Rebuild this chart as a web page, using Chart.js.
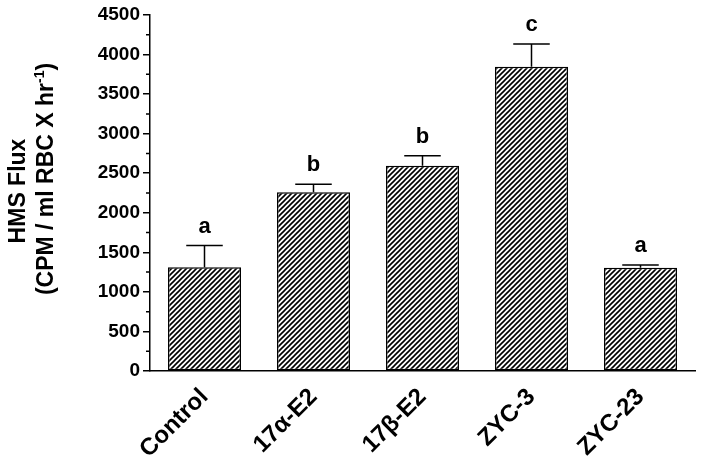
<!DOCTYPE html>
<html>
<head>
<meta charset="utf-8">
<script src="https://cdn.jsdelivr.net/npm/chart.js@4.4.0/dist/chart.umd.min.js"></script>
<style>
  html, body { margin: 0; padding: 0; background: #fff; }
  #wrap { width: 704px; height: 465px; position: relative; }
</style>
</head>
<body>
<div id="wrap"><canvas id="hmsChart"></canvas></div>
<script>
// data
const categories = ['Control', '17\u03b1-E2', '17\u03b2-E2', 'ZYC-3', 'ZYC-23'];
const fluxMeans = [1310, 2260, 2595, 3845, 1305];
const fluxErrors = [275, 100, 127, 287, 35];
const sigLetters = ['a', 'b', 'b', 'c', 'a'];
const yTicks = [0, 500, 1000, 1500, 2000, 2500, 3000, 3500, 4000, 4500];

const FONT = '"Liberation Sans", Arial, Helvetica, sans-serif';

function makeHatch() {
    const size = 5;
    const c = document.createElement('canvas');
    c.width = size;
    c.height = size;
    const g = c.getContext('2d');
    g.fillStyle = '#fff';
    g.fillRect(0, 0, size, size);
    g.strokeStyle = '#000';
    g.lineWidth = 1.6;
    g.beginPath();
    g.moveTo(-1, size + 1);
    g.lineTo(size + 1, -1);
    g.moveTo(-1, 1);
    g.lineTo(1, -1);
    g.moveTo(size - 1, size + 1);
    g.lineTo(size + 1, size - 1);
    g.stroke();
    return g.createPattern(c, 'repeat');
}

// error bars, letters, minor ticks and the y title
const extrasPlugin = {
    id: 'extras',
    afterDatasetsDraw(chart) {
        const ctx = chart.ctx;
        const y = chart.scales.y;
        const meta = chart.getDatasetMeta(0);
        ctx.save();
        ctx.strokeStyle = '#000';
        ctx.fillStyle = '#000';
        ctx.lineWidth = 1.5;
        meta.data.forEach((bar, i) => {
            const cx = bar.x;
            const top = y.getPixelForValue(fluxMeans[i]);
            const cap = y.getPixelForValue(fluxMeans[i] + fluxErrors[i]);
            const half = bar.width / 4;
            ctx.beginPath();
            ctx.moveTo(cx, top);
            ctx.lineTo(cx, cap);
            ctx.moveTo(cx - half, cap);
            ctx.lineTo(cx + half, cap);
            ctx.stroke();

            ctx.font = 'bold 22px ' + FONT;
            ctx.textAlign = 'center';
            ctx.textBaseline = 'alphabetic';
            ctx.fillText(sigLetters[i], cx, cap - 13);
        });

        // minor ticks on y axis
        ctx.beginPath();
        for (let v = 250; v < 4500; v += 500) {
            const py = y.getPixelForValue(v);
            ctx.moveTo(y.right, py);
            ctx.lineTo(y.right - 4, py);
        }
        ctx.stroke();

        // y axis title (two lines, with superscript)
        const midY = (chart.chartArea.top + chart.chartArea.bottom) / 2;
        ctx.translate(0, midY);
        ctx.rotate(-Math.PI / 2);
        ctx.textAlign = 'center';
        ctx.textBaseline = 'alphabetic';
        ctx.font = 'bold 23px ' + FONT;
        ctx.fillText('HMS Flux', midY - 191, 25);

        const main = '(CPM / ml RBC X hr';
        const sup = '-1';
        const close = ')';
        const fMain = 'bold 23px ' + FONT;
        const fSup = 'bold 14px ' + FONT;
        ctx.font = fMain;
        const wMain = ctx.measureText(main).width;
        const wClose = ctx.measureText(close).width;
        ctx.font = fSup;
        const wSup = ctx.measureText(sup).width;
        const total = wMain + wSup + wClose;
        let sx = (midY - 179) - total / 2;
        ctx.textAlign = 'left';
        ctx.font = fMain;
        ctx.fillText(main, sx, 53);
        sx += wMain;
        ctx.font = fSup;
        ctx.fillText(sup, sx, 44);
        sx += wSup;
        ctx.font = fMain;
        ctx.fillText(close, sx, 53);
        ctx.restore();
    }
};

const ctx = document.getElementById('hmsChart').getContext('2d');
new Chart(ctx, {
    type: 'bar',
    data: {
        labels: categories,
        datasets: [{
            data: fluxMeans,
            backgroundColor: makeHatch(),
            borderColor: '#000',
            borderWidth: 1.5,
            borderSkipped: false,
            barPercentage: 0.67,
            categoryPercentage: 1.0
        }]
    },
    options: {
        responsive: true,
        maintainAspectRatio: false,
        animation: false,
        layout: { padding: { left: 0, right: 9, top: 15, bottom: 0 } },
        plugins: {
            legend: { display: false },
            tooltip: { enabled: false }
        },
        scales: {
            x: {
                grid: { display: false },
                border: { display: true, color: '#000', width: 1.5 },
                ticks: {
                    color: '#000',
                    font: { family: FONT, size: 24, weight: 'bold' },
                    minRotation: 45,
                    maxRotation: 45,
                    padding: 4
                },
                afterFit(scale) { scale.height = 94; }
            },
            y: {
                min: 0,
                max: 4500,
                afterBuildTicks(scale) {
                    scale.ticks = yTicks.map(v => ({ value: v }));
                },
                grid: {
                    drawOnChartArea: false,
                    color: '#000',
                    lineWidth: 1.5,
                    tickLength: 7
                },
                border: { display: true, color: '#000', width: 1.5 },
                ticks: {
                    color: '#000',
                    font: { family: FONT, size: 19, weight: 'bold' },
                    padding: 3,
                    callback: (v) => String(v)
                },
                afterFit(scale) { scale.width = 150; }
            }
        }
    },
    plugins: [extrasPlugin]
});
</script>
</body>
</html>
